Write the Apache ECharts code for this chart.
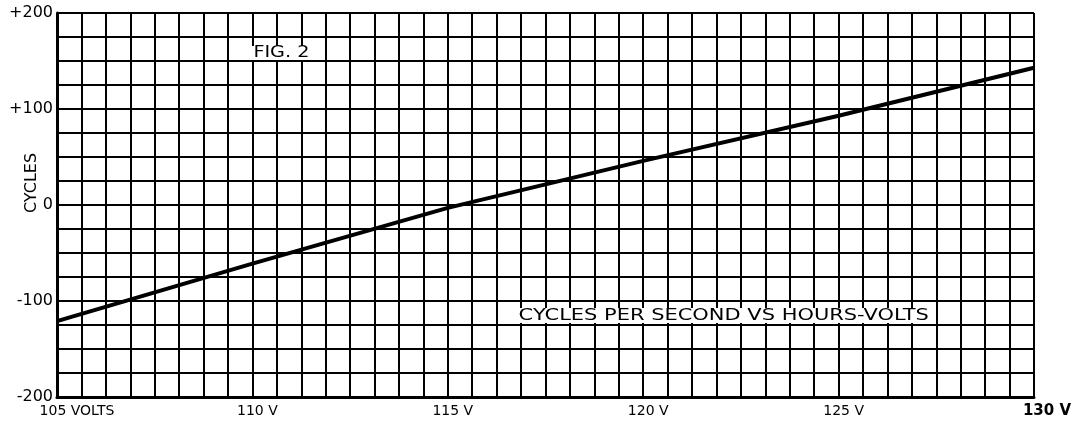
<!DOCTYPE html>
<html>
<head>
<meta charset="utf-8">
<script src="https://cdn.jsdelivr.net/npm/echarts@6/dist/echarts.min.js"></script>
<style>
  html, body { margin: 0; padding: 0; background: #fff; }
  #chartBox { width: 1075px; height: 424px; }
</style>
</head>
<body>
<div id="chartBox"></div>
<script>
  // data
  const volts = [105, 110, 115, 120, 125, 130];
  const cycles = [-121, -61, -3, 46, 93, 143];

  // tick labels
  const xTickValues = [105, 110, 115, 120, 125, 130];
  const xTickLabels = ['105 VOLTS', '110 V', '115 V', '120 V', '125 V', '130 V'];
  const yTickValues = [200, 100, 0, -100, -200];
  const yTickLabels = ['+200', '+100', '0', '-100', '-200'];

  const figLabel = 'FIG. 2';
  const chartTitle = 'CYCLES PER SECOND VS HOURS-VOLTS';
  const yName = 'CYCLES';

  const font = 'DejaVu Sans';
  const chart = echarts.init(document.getElementById('chartBox'));

  const option = {
    animation: false,
    backgroundColor: '#fff',
    grid: { left: 57, right: 41, top: 13, bottom: 27, outerBoundsMode: 'none', containLabel: false },
    xAxis: {
      type: 'value',
      min: 105, max: 130, interval: 0.625,
      axisLine: { show: true, onZero: false, lineStyle: { color: '#000', width: 3 } },
      axisTick: { show: false },
      splitLine: { show: true, lineStyle: { color: '#000', width: 2 } },
      axisLabel: {
        margin: 7,
        color: '#000', fontFamily: font, fontSize: 14,
        alignMinLabel: 'center',
        formatter: function (v) {
          const i = xTickValues.indexOf(Math.round(v * 1000) / 1000);
          if (i < 0) return '';
          if (i === 0) return '{first|' + xTickLabels[i] + '}';
          if (i === xTickValues.length - 1) return '{last|' + xTickLabels[i] + '}';
          return '{mid|' + xTickLabels[i] + '}';
        },
        rich: {
          first: { fontFamily: font, fontSize: 14, color: '#000', padding: [0, 0, 0, 40] },
          mid: { fontFamily: font, fontSize: 14, color: '#000', padding: [0, 0, 0, 10] },
          last: { fontFamily: font, fontSize: 15, fontWeight: 'bold', color: '#000', padding: [0, 0, 0, 26] }
        }
      }
    },
    yAxis: {
      type: 'value',
      min: -200, max: 200, interval: 25,
      name: yName,
      nameLocation: 'middle',
      nameRotate: 90,
      nameGap: 17,
      nameMoveOverlap: false,
      nameTextStyle: { fontFamily: font, fontSize: 16, color: '#000', padding: [0, 0, 0, 44] },
      axisLine: { show: true, onZero: false, lineStyle: { color: '#000', width: 3 } },
      axisTick: { show: false },
      splitLine: { show: true, lineStyle: { color: '#000', width: 2 } },
      axisLabel: {
        margin: 4,
        color: '#000', fontFamily: font, fontSize: 16,
        formatter: function (v) {
          const i = yTickValues.indexOf(v);
          return i >= 0 ? yTickLabels[i] : '';
        }
      }
    },
    graphic: [
      {
        type: 'text', x: 251, y: 46, scaleX: 1.2, z: 10,
        style: {
          text: figLabel, fill: '#000', font: '16px "DejaVu Sans"', lineHeight: 14,
          backgroundColor: '#fff', padding: [0, 2, 0, 2]
        }
      },
      {
        type: 'text', x: 516, y: 308, scaleX: 1.31, z: 10,
        style: {
          text: chartTitle, fill: '#000', font: '16px "DejaVu Sans"', lineHeight: 15,
          backgroundColor: '#fff', padding: [0, 2, 0, 2]
        }
      }
    ],
    series: [
      {
        type: 'line',
        data: volts.map((v, i) => [v, cycles[i]]),
        showSymbol: false,
        lineStyle: { color: '#000', width: 4 },
        z: 3
      }
    ]
  };
  chart.setOption(option);
</script>
</body>
</html>
